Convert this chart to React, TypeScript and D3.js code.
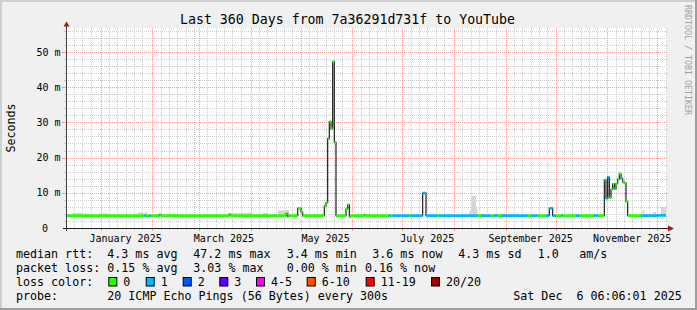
import React from 'react';
import * as d3 from 'd3';

const W = 697;
const H = 310;
const START = new Date(Date.UTC(2024, 11, 11, 6, 6, 1));
const END = new Date(Date.UTC(2025, 11, 6, 6, 6, 1));
const DAY_MS = 86400000;

const title = 'Last 360 Days from 7a36291d731f to YouTube';
const yAxisTitle = 'Seconds';
const sideText = 'RRDTOOL / TOBI OETIKER';

const yTickValues = [0, 10, 20, 30, 40, 50];
const yTickLabels = ['0', '10 m', '20 m', '30 m', '40 m', '50 m'];
const xLabelMonths = ['2025-01', '2025-03', '2025-05', '2025-07', '2025-09', '2025-11'];

// median rtt step series: day offset from start, median (ms), loss level index
const stepDays = [0, 47, 48, 50, 51, 56, 57, 98, 99, 132, 133, 134, 139, 141, 142,
  155, 156, 157, 158, 159, 160, 161, 162, 168, 169, 170, 171, 179, 180,
  194, 195, 196, 206, 207, 214, 216, 223, 224, 247, 249, 255, 257, 259, 261,
  277, 279, 283, 288, 290, 292, 294, 297, 298, 306, 308, 317, 319,
  323, 324, 325, 326, 327, 328, 329, 330, 331, 332, 333, 334, 335, 336, 337, 345, 355];
const stepMedian = [3.5, 3.5, 3.5, 3.5, 3.5, 3.8, 3.5, 3.8, 3.5, 4.1, 3.3, 3.5, 5.6, 4.5, 3.5,
  6.3, 7.2, 25.4, 30.2, 28.2, 47.2, 24.3, 3.5, 5.4, 6.6, 3.2, 3.5, 3.7, 3.5,
  3.5, 3.5, 3.5, 3.5, 3.5, 9.9, 3.5, 3.5, 3.5, 3.5, 3.5, 3.5, 3.5, 3.5, 3.5,
  3.5, 3.5, 3.5, 3.5, 5.6, 3.5, 3.5, 3.5, 3.5, 3.5, 3.5, 3.5, 3.5,
  13.6, 8.4, 14.4, 8.6, 11.0, 12.5, 11.2, 12.6, 13.9, 15.4, 14.1, 13.0, 12.8, 7.5, 3.5, 3.5, 3.6];
const stepLoss = [0, 1, 0, 1, 0, 0, 0, 0, 0, 0, 0, 0, 0, 0, 0,
  0, 0, 0, 0, 0, 0, 0, 0, 0, 0, 0, 0, 0, 0,
  1, 0, 1, 0, 1, 1, 1, 0, 1, 0, 1, 0, 1, 0, 1,
  0, 1, 0, 1, 1, 1, 0, 1, 0, 1, 0, 1, 0,
  1, 1, 1, 0, 0, 0, 1, 0, 0, 0, 1, 0, 0, 0, 0, 1, 1];

// smoke (ping spread) patches
const smokeStart = [4, 11, 20, 32, 43, 64, 97, 118, 127, 242, 243, 246, 261, 346, 352, 357];
const smokeEnd = [10, 13, 25, 34, 49, 66, 112, 121, 134, 243, 246, 247, 272, 347, 354, 360];
const smokeHigh = [4.3, 4.1, 4.2, 4.0, 4.4, 4.0, 4.3, 4.3, 5.0, 5.0, 9.2, 5.5, 4.1, 5.0, 4.5, 6.0];

const lossLabels = ['0', '1', '2', '3', '4-5', '6-10', '11-19', '20/20'];
const lossColors = ['#26ff00', '#00b8ff', '#0059ff', '#5e00ff', '#ff00ff', '#ff5500', '#ff0000', '#a10000'];
const lossBoxX = [108.3, 145.7, 182.7, 219.3, 256, 306.7, 365.7, 431];

const row1 = [['median rtt:', 16], ['4.3 ms avg', 107.3], ['47.2 ms max', 193.3], ['3.4 ms min', 286.7],
  ['3.6 ms now', 372.3], ['4.3 ms sd', 458.3], ['1.0', 537.7], ['am/s', 579.3]];
const row2 = [['packet loss:', 16], ['0.15 % avg', 107.3], ['3.03 % max', 193.3], ['0.00 % min', 286.7], ['0.16 % now', 365]];
const row4 = [['probe:', 16], ['20 ICMP Echo Pings (56 Bytes) every 300s', 107.3], ['Sat Dec  6 06:06:01 2025', 513.3]];

const X0 = 66, X1 = 666, Y0 = 228, Y1 = 28;
const MONO = '"DejaVu Sans Mono", monospace';

export default function App() {
  const x = d3.scaleTime().domain([START, END]).range([X0, X1]);
  const y = d3.scaleLinear().domain([0, 56.8]).range([Y0, Y1]);
  const dd = (d: number) => new Date(START.getTime() + d * DAY_MS);
  const px = (v: number) => Math.round(v) + 0.5;

  const minorY = d3.range(2, 57, 2).filter(v => v % 10 !== 0);
  const majorY = [10, 20, 30, 40, 50];
  const majorX = d3.utcMonth.range(d3.utcMonth.ceil(START), END);
  const minorX: Date[] = [];
  d3.utcMonth.range(d3.utcMonth.floor(START), END).forEach(m => {
    [6, 11, 16, 21, 26].forEach(md => {
      const t = new Date(Date.UTC(m.getUTCFullYear(), m.getUTCMonth(), md));
      if (t > START && t < END) minorX.push(t);
    });
  });
  const fmt = d3.utcFormat('%B %Y');

  const pts: [number, number][] = stepDays.map((d, i) => [x(dd(d)), y(stepMedian[i])]);
  pts.push([X1, y(stepMedian[stepMedian.length - 1])]);
  const linePath = d3.line().curve(d3.curveStepAfter)(pts) || '';

  const gridMinor = '#cccccc';
  const gridMajor = '#f09a9a';

  return (
    <svg width={W} height={H} style={{ position: 'absolute', left: 0, top: 0 }} fontFamily={MONO}>
      <rect x={0} y={0} width={W} height={H} fill="#f0f0f0" />
      <rect x={0} y={0} width={W} height={2} fill="#cfcfcf" />
      <rect x={0} y={0} width={2} height={H} fill="#cfcfcf" />
      <rect x={0} y={H - 2} width={W} height={2} fill="#9e9e9e" />
      <rect x={W - 2} y={0} width={2} height={H} fill="#9e9e9e" />

      <rect x={X0} y={Y1} width={X1 - X0 + 1} height={Y0 - Y1} fill="#ffffff" />

      {/* minor grid */}
      {minorY.map(v => (
        <g key={'my' + v}>
          <line x1={X0} x2={X1 + 2} y1={px(y(v))} y2={px(y(v))} stroke={gridMinor} strokeDasharray="1,1" />
          <line x1={X0 - 2} x2={X0} y1={px(y(v))} y2={px(y(v))} stroke={gridMinor} />
        </g>
      ))}
      {minorX.map((t, i) => (
        <g key={'mx' + i}>
          <line x1={px(x(t))} x2={px(x(t))} y1={Y1} y2={Y0} stroke={gridMinor} strokeDasharray="1,1" />
          <line x1={px(x(t))} x2={px(x(t))} y1={Y0} y2={Y0 + 2} stroke={gridMinor} />
        </g>
      ))}
      {/* major grid */}
      {majorY.map(v => (
        <g key={'My' + v}>
          <line x1={X0} x2={X1 + 2} y1={px(y(v))} y2={px(y(v))} stroke={gridMajor} strokeDasharray="1,1" />
          <line x1={X0 - 4} x2={X0} y1={px(y(v))} y2={px(y(v))} stroke={gridMajor} />
        </g>
      ))}
      {majorX.map((t, i) => (
        <g key={'Mx' + i}>
          <line x1={px(x(t))} x2={px(x(t))} y1={Y1} y2={Y0} stroke={gridMajor} strokeDasharray="1,1" />
          <line x1={px(x(t))} x2={px(x(t))} y1={Y0} y2={Y0 + 3} stroke={gridMajor} />
        </g>
      ))}

      {/* smoke */}
      {smokeStart.map((s, i) => (
        <rect key={'sm' + i} x={x(dd(s))} width={x(dd(smokeEnd[i])) - x(dd(s))}
          y={y(smokeHigh[i])} height={y(3.3) - y(smokeHigh[i])} fill="#d6d6d6" />
      ))}

      {/* median line */}
      <path d={linePath} fill="none" stroke="#202020" strokeWidth={1.2} />
      {stepDays.map((d, i) => {
        const x0 = x(dd(d));
        const x1 = i + 1 < stepDays.length ? x(dd(stepDays[i + 1])) : X1;
        return (
          <rect key={'b' + i} x={x0} width={x1 - x0} y={y(stepMedian[i]) - 1.4} height={2.8}
            fill={lossColors[stepLoss[i]]} />
        );
      })}

      {/* axes */}
      <line x1={X0 - 3} x2={X1 + 3} y1={Y0 + 0.5} y2={Y0 + 0.5} stroke="#202020" />
      <line x1={X0 + 0.5} x2={X0 + 0.5} y1={Y0 + 3} y2={Y1 - 2} stroke="#404040" />
      <path d={`M${X0 - 2.5},${Y1 - 1.5} L${X0 + 0.5},${Y1 - 6.5} L${X0 + 3.5},${Y1 - 1.5} Z`} fill="#9a1a1a" />
      <path d={`M${X1 + 2},${Y0 - 2.5} L${X1 + 8},${Y0 + 0.5} L${X1 + 2},${Y0 + 3.5} Z`} fill="#9a1a1a" />

      {/* y tick labels */}
      {yTickValues.map((v, i) => (
        <text key={'yl' + v} x={v === 0 ? 48 : 60.5} y={y(v) + 3.6} fontSize={10} textAnchor="end" fill="#000">
          {yTickLabels[i]}
        </text>
      ))}
      {/* x labels */}
      {xLabelMonths.map(m => {
        const t = new Date(m + '-01T00:00:00Z');
        const c = x(new Date(t.getTime() + 15 * DAY_MS));
        return (
          <text key={m} x={c} y={242} fontSize={10} textAnchor="middle" fill="#000">{fmt(t)}</text>
        );
      })}

      <text x={347.5} y={24} fontSize={13.25} textAnchor="middle" fill="#000">{title}</text>
      <text transform="translate(15,128) rotate(-90)" fontSize={11.67} textAnchor="middle" fill="#000">{yAxisTitle}</text>
      <text transform="translate(685,5) rotate(90)" fontSize={8.3} fill="#a0a0a0">{sideText}</text>

      {/* legend */}
      <g fontSize={11.67} fill="#000">
        {row1.map(([s, xx], i) => <text key={'r1' + i} x={xx as number} y={258.3} xmlSpace="preserve">{s}</text>)}
        {row2.map(([s, xx], i) => <text key={'r2' + i} x={xx as number} y={272.3} xmlSpace="preserve">{s}</text>)}
        <text x={16} y={286.3}>loss color:</text>
        {lossLabels.map((l, i) => (
          <g key={'lc' + i}>
            <rect x={lossBoxX[i] + 0.5} y={277.5} width={8} height={8.5} fill={lossColors[i]} stroke="#000" strokeWidth={1} />
            <text x={lossBoxX[i] + 15} y={286.3}>{l}</text>
          </g>
        ))}
        {row4.map(([s, xx], i) => <text key={'r4' + i} x={xx as number} y={300.3} xmlSpace="preserve" style={{ whiteSpace: 'pre' }}>{s}</text>)}
      </g>
    </svg>
  );
}
